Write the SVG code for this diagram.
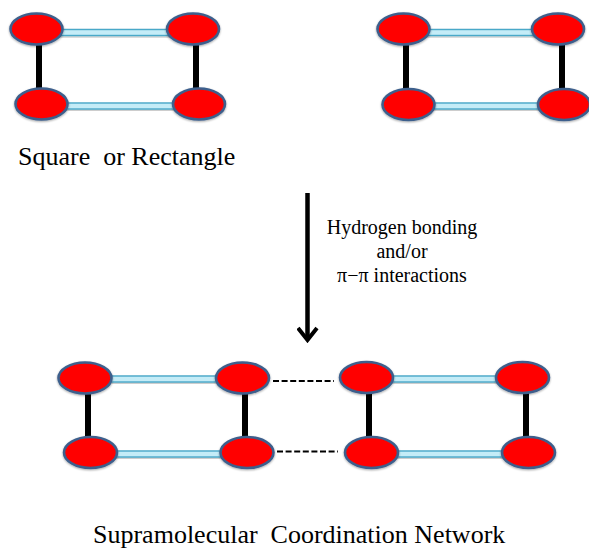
<svg xmlns="http://www.w3.org/2000/svg" width="589" height="548" viewBox="0 0 589 548">
  <defs>
    <filter id="soft" x="-20%" y="-30%" width="140%" height="160%">
      <feGaussianBlur in="SourceAlpha" stdDeviation="1.2" result="b"/>
      <feOffset dy="1" result="o"/>
      <feComponentTransfer in="o" result="s"><feFuncA type="linear" slope="0.35"/></feComponentTransfer>
      <feMerge><feMergeNode in="s"/><feMergeNode in="SourceGraphic"/></feMerge>
    </filter>
    <!-- open chevron head, drawn along +x so orient="auto" points it down the line -->
    <marker id="vee" viewBox="0 0 22 22" refX="19" refY="11" markerWidth="22" markerHeight="22" markerUnits="userSpaceOnUse" orient="auto">
      <path d="M7,1.5 L19,11 L7,20.5" fill="none" stroke="#000" stroke-width="4" stroke-linejoin="miter"/>
    </marker>
  </defs>
  <style>
    .atom { fill: #ff0000; stroke: #3d5f8c; stroke-width: 2.6; filter: url(#soft); }
    .pillar { stroke: #000; stroke-width: 6; }
    .bridge { fill: #c4ecf7; stroke: #4aa9c9; stroke-width: 1.4; filter: url(#soft); }
    .hbond { stroke: #000; stroke-width: 2.2; stroke-dasharray: 6 2.6; fill: none; }
  </style>

  <!-- bonds: light-blue bridges, black pillars, dashed contacts, transformation arrow -->
  <g id="connectors">
    <!-- upper left rectangle -->
    <rect class="bridge" x="60" y="29.5" width="136" height="6"/>
    <rect class="bridge" x="64" y="103" width="138" height="6"/>
    <line class="pillar" x1="39" y1="35" x2="39" y2="98"/>
    <line class="pillar" x1="196" y1="35" x2="196" y2="98"/>
    <!-- upper right rectangle -->
    <rect class="bridge" x="426" y="29.5" width="136" height="6"/>
    <rect class="bridge" x="431" y="103" width="136" height="6"/>
    <line class="pillar" x1="406" y1="35" x2="406" y2="98"/>
    <line class="pillar" x1="562" y1="35" x2="562" y2="98"/>
    <!-- lower left rectangle -->
    <rect class="bridge" x="108" y="376" width="138" height="6"/>
    <rect class="bridge" x="113" y="451" width="138" height="6"/>
    <line class="pillar" x1="88" y1="384" x2="88" y2="446"/>
    <line class="pillar" x1="245" y1="384" x2="245" y2="446"/>
    <!-- lower right rectangle -->
    <rect class="bridge" x="389" y="376" width="138" height="6"/>
    <rect class="bridge" x="394" y="451" width="138" height="6"/>
    <line class="pillar" x1="369" y1="384" x2="369" y2="446"/>
    <line class="pillar" x1="526" y1="384" x2="526" y2="446"/>
    <!-- intermolecular contacts -->
    <line class="hbond" x1="273" y1="381" x2="334" y2="381"/>
    <line class="hbond" x1="277" y1="451.5" x2="338" y2="451.5"/>
    <!-- arrow -->
    <line x1="307.5" y1="193" x2="307.5" y2="340" stroke="#000" stroke-width="4.5" marker-end="url(#vee)"/>
  </g>

  <!-- metal centres -->
  <g id="square-a">
    <ellipse class="atom" cx="36.5" cy="29" rx="26" ry="15.5"/>
    <ellipse class="atom" cx="193" cy="29" rx="26" ry="15.5"/>
    <ellipse class="atom" cx="41.5" cy="104" rx="26" ry="15.5"/>
    <ellipse class="atom" cx="199" cy="104" rx="26" ry="15.5"/>
  </g>
  <g id="square-b">
    <ellipse class="atom" cx="403.5" cy="29" rx="26" ry="15.5"/>
    <ellipse class="atom" cx="558" cy="29" rx="26" ry="15.5"/>
    <ellipse class="atom" cx="408.5" cy="104.5" rx="26" ry="15.5"/>
    <ellipse class="atom" cx="564" cy="104.5" rx="26" ry="15.5"/>
  </g>
  <g id="network-a">
    <ellipse class="atom" cx="85" cy="378" rx="26.5" ry="15.5"/>
    <ellipse class="atom" cx="242.5" cy="378" rx="26.5" ry="15.5"/>
    <ellipse class="atom" cx="90.5" cy="452.5" rx="26.5" ry="15.5"/>
    <ellipse class="atom" cx="247" cy="452.5" rx="26.5" ry="15.5"/>
  </g>
  <g id="network-b">
    <ellipse class="atom" cx="366.5" cy="377.5" rx="26.5" ry="15.5"/>
    <ellipse class="atom" cx="522.5" cy="377.5" rx="26.5" ry="15.5"/>
    <ellipse class="atom" cx="371.5" cy="452.5" rx="26.5" ry="15.5"/>
    <ellipse class="atom" cx="528.5" cy="452.5" rx="26.5" ry="15.5"/>
  </g>

  <!-- captions -->
  <g id="captions" font-family="Liberation Serif, DejaVu Serif, serif" fill="#000">
    <text id="caption-top" x="18" y="165" font-size="26" xml:space="preserve">Square  or Rectangle</text>
    <g id="caption-arrow" font-size="20" text-anchor="middle">
      <text x="402" y="234">Hydrogen bonding</text>
      <text x="402" y="258">and/or</text>
      <text x="402" y="282">π−π interactions</text>
    </g>
    <text id="caption-bottom" x="93" y="543" font-size="26" xml:space="preserve">Supramolecular  Coordination Network</text>
  </g>
</svg>
